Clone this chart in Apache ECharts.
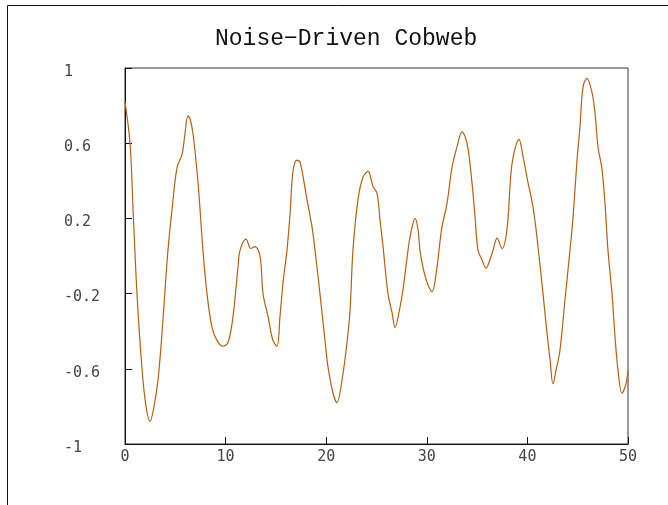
<!DOCTYPE html>
<html>
<head>
<meta charset="utf-8">
<script src="https://cdn.jsdelivr.net/npm/echarts@6/dist/echarts.min.js"></script>
<style>html,body{margin:0;padding:0;background:#fff}#c{width:668px;height:505px}</style>
</head>
<body>
<div id="c"></div>
<script>
const titleText = 'Noise\u2212Driven Cobweb';
const xTicks = [0, 10, 20, 30, 40, 50];
const yTicks = [-1, -0.6, -0.2, 0.2, 0.6, 1];
const xs = [0,0.50,0.80,1.19,1.69,2.09,2.49,2.88,3.28,3.68,3.98,4.27,4.67,5.17,5.67,5.96,6.26,6.46,6.76,7.26,7.75,8.15,8.65,9.15,9.74,10.24,10.74,11.23,11.43,12.03,12.52,12.92,13.42,13.72,14.21,14.71,15.11,15.41,15.71,16.10,16.40,16.70,17.10,17.40,18.09,18.59,18.89,19.38,19.88,20.18,20.68,21.07,21.57,22.07,22.37,22.66,23.16,23.66,24.16,24.65,25.05,25.35,25.65,26.14,26.54,26.84,27.34,27.63,28.13,28.33,28.83,29.13,29.32,29.62,30.02,30.52,31.01,31.21,31.51,32.01,32.50,33.00,33.50,34.00,34.49,34.79,35.09,35.49,35.88,36.28,36.58,36.98,37.48,37.97,38.47,39.17,39.56,40.06,40.56,40.95,41.55,41.95,42.25,42.54,42.84,43.24,43.74,44.23,44.53,44.93,45.23,45.53,45.92,46.42,46.72,47.02,47.42,47.71,48.01,48.41,48.71,49.01,49.40,49.80,50.00];
const ys = [0.82,0.60,0.25,-0.20,-0.60,-0.80,-0.88,-0.80,-0.66,-0.41,-0.18,0.03,0.245,0.47,0.54,0.65,0.745,0.73,0.65,0.39,0.03,-0.20,-0.38,-0.45,-0.48,-0.46,-0.32,-0.06,0.03,0.09,0.04,0.05,0.00,-0.20,-0.32,-0.45,-0.48,-0.32,-0.14,0.03,0.22,0.45,0.51,0.50,0.30,0.155,0.03,-0.20,-0.45,-0.59,-0.73,-0.78,-0.66,-0.46,-0.29,0.03,0.30,0.42,0.45,0.37,0.335,0.19,0.05,-0.20,-0.30,-0.38,-0.27,-0.18,0.03,0.10,0.20,0.14,0.03,-0.06,-0.14,-0.19,-0.06,0.03,0.155,0.28,0.47,0.58,0.66,0.60,0.39,0.21,0.03,-0.02,-0.065,-0.02,0.03,0.095,0.04,0.14,0.49,0.62,0.53,0.39,0.26,0.10,-0.20,-0.41,-0.55,-0.68,-0.61,-0.50,-0.23,0.03,0.20,0.51,0.69,0.90,0.945,0.87,0.76,0.58,0.46,0.28,0.03,-0.20,-0.43,-0.61,-0.73,-0.68,-0.61];

const data = xs.map((x, i) => [x, ys[i]]);
const chart = echarts.init(document.getElementById('c'), null, {renderer: 'canvas'});
const tickFont = {fontFamily: 'DejaVu Sans Mono', fontSize: 15, color: '#444'};
chart.setOption({
  animation: false,
  backgroundColor: '#fff',
  title: {
    text: titleText, left: 210, top: 22,
    textStyle: {fontFamily: 'Liberation Mono', fontSize: 23, fontWeight: 'normal', color: '#111'}
  },
  graphic: [
    {type: 'line', shape: {x1: 7.5, y1: 5.5, x2: 668, y2: 5.5}, style: {stroke: '#111', lineWidth: 1}},
    {type: 'line', shape: {x1: 7.5, y1: 5.5, x2: 7.5, y2: 505}, style: {stroke: '#111', lineWidth: 1}}
  ],
  grid: {left: 125, top: 68, right: 40, bottom: 61, show: true, borderColor: '#333', borderWidth: 1, backgroundColor: 'transparent'},
  xAxis: {
    type: 'value', min: xTicks[0], max: xTicks[xTicks.length - 1], interval: 10,
    axisLine: {show: true, onZero: false, lineStyle: {color: '#111', width: 1}},
    axisTick: {show: true, inside: true, length: 7, lineStyle: {color: '#111'}},
    axisLabel: Object.assign({margin: 6}, tickFont),
    splitLine: {show: false}
  },
  yAxis: {
    type: 'value', min: yTicks[0], max: yTicks[yTicks.length - 1], interval: 0.4,
    axisLine: {show: true, onZero: false, lineStyle: {color: '#111', width: 1}},
    axisTick: {show: true, inside: true, length: 7, lineStyle: {color: '#111'}},
    axisLabel: Object.assign({margin: 61, align: 'left', verticalAlign: 'top', lineHeight: 8}, tickFont),
    splitLine: {show: false}
  },
  series: [{
    type: 'line', data: data, showSymbol: false, smooth: 0.35,
    lineStyle: {color: '#b5600f', width: 1.2}
  }]
});
</script>
</body>
</html>
